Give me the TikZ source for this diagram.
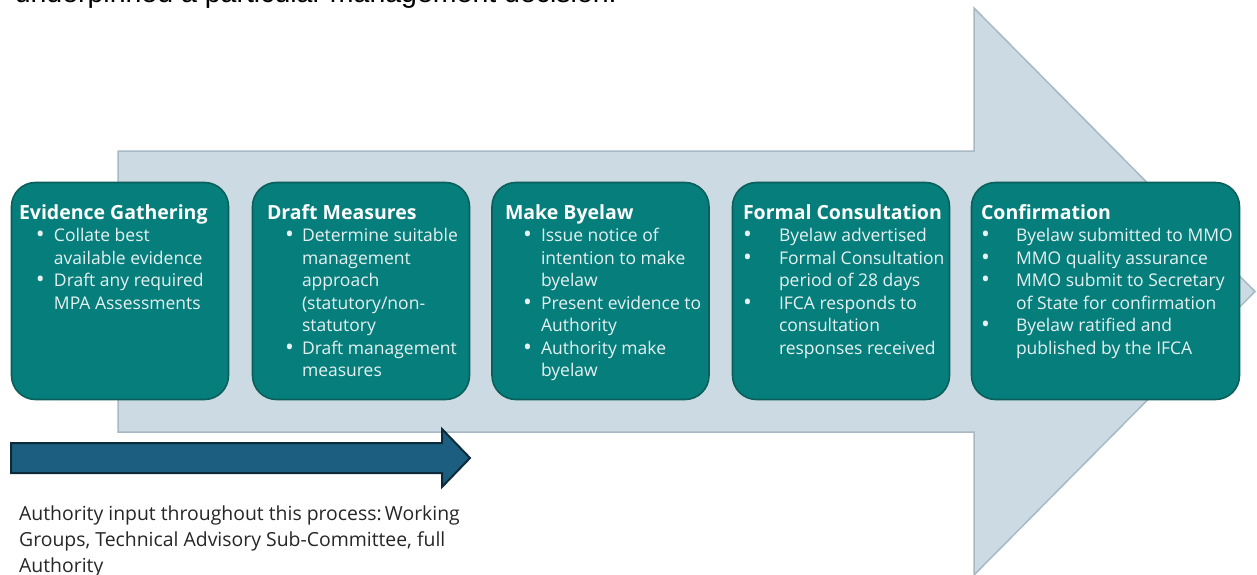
\documentclass[tikz,border=0pt]{standalone}
\usepackage{fontspec}
\usepackage{graphicx}
\setmainfont{Open Sans}
\newfontfamily\headfont{Liberation Sans}

\definecolor{tealfill}{HTML}{067F7C}
\definecolor{tealline}{HTML}{0B5F5B}
\definecolor{bandfill}{HTML}{CBDAE3}
\definecolor{bandline}{HTML}{A7B9C5}
\definecolor{inputfill}{HTML}{1B5E7F}
\definecolor{inputline}{HTML}{0D2A3A}
\definecolor{bodytext}{HTML}{E6F1F1}
\definecolor{notetext}{HTML}{262626}

% bullet layout: offset of the bullet from the title, and gap to the item text
\def\bulx{18}
\def\bulw{17}
\newcommand\bigbullet{\raisebox{-0.07em}{\scalebox{1.35}{\textbullet}}}
\newcommand\bitem[1]{\hspace*{\bulx pt}\makebox[\bulw pt][l]{\bigbullet}#1\\}
\newcommand\citem[1]{\hspace*{\dimexpr\bulx pt+\bulw pt\relax}#1\\}
\newcommand\stagetitle[1]{{\fontsize{19.5}{22.5}\selectfont\bfseries\color{white}#1}\\}
\newcommand\stagebody[2]{\parbox[t]{#1pt}{\raggedright\setlength\parindent{0pt}%
  \fontsize{17.5}{22.5}\selectfont\leavevmode\color{bodytext}#2}}

\tikzset{
  stage/.style={draw=tealline, line width=1.6pt, fill=tealfill,
    rounded corners=24pt, minimum height=217pt, inner sep=0pt},
  stagetext/.style={anchor=base west, inner sep=0pt, outer sep=0pt},
  band/.style={draw=bandline, line width=1.5pt, fill=bandfill, line join=miter},
  inputarrow/.style={draw=inputline, line width=2pt, fill=inputfill, line join=miter},
}

\begin{document}
\begin{tikzpicture}[x=1pt, y=-1pt]
\useasboundingbox (0,0) rectangle (1257,575);
\clip (0,0) rectangle (1257,575);

% running text line cut by the top edge
\node[anchor=base east, inner sep=0pt, font=\headfont\fontsize{28.5}{30}\selectfont]
  (lead) at (617,3) {underpinned a particular management decision.};

% broad process arrow behind the stages
\draw[band] (118,151) -- (974,151) -- (974,8) -- (1255,291.5)
  -- (974,575) -- (974,432) -- (118,432) -- cycle;

% authority input arrow
\draw[inputarrow] (11,443) -- (442,443) -- (442,429) -- (470,458)
  -- (442,487) -- (442,473) -- (11,473) -- cycle;

% stage boxes
\node[stage, minimum width=217pt] (evidence) at (120,291) {};
\node[stage, minimum width=217pt] (draft)    at (361,291) {};
\node[stage, minimum width=217pt] (make)     at (600.5,291) {};
\node[stage, minimum width=217pt] (consult)  at (841,291) {};
\node[stage, minimum width=268pt] (confirm)  at (1105.5,291) {};

% stage contents
\def\bulx{17}\def\bulw{18}
\node[stagetext] (evidence-text) at (19,219) {\stagebody{210}{%
  \stagetitle{Evidence Gathering}
  \bitem{Collate best}
  \citem{available evidence}
  \bitem{Draft any required}
  \citem{MPA Assessments}}};

\def\bulx{18}\def\bulw{17}
\node[stagetext] (draft-text) at (267,219) {\stagebody{210}{%
  \stagetitle{Draft Measures}
  \bitem{Determine suitable}
  \citem{management}
  \citem{approach}
  \citem{(statutory/non-}
  \citem{statutory}
  \bitem{Draft management}
  \citem{measures}}};

\def\bulx{18}\def\bulw{18}
\node[stagetext] (make-text) at (505,219) {\stagebody{210}{%
  \stagetitle{Make Byelaw}
  \bitem{Issue notice of}
  \citem{intention to make}
  \citem{byelaw}
  \bitem{Present evidence to}
  \citem{Authority}
  \bitem{Authority make}
  \citem{byelaw}}};

\def\bulx{0}\def\bulw{36}
\node[stagetext] (consult-text) at (743,219) {\stagebody{210}{%
  \stagetitle{Formal Consultation}
  \bitem{Byelaw advertised}
  \bitem{Formal Consultation}
  \citem{period of 28 days}
  \bitem{IFCA responds to}
  \citem{consultation}
  \citem{responses received}}};

\def\bulx{0}\def\bulw{35}
\node[stagetext] (confirm-text) at (981,219) {\stagebody{260}{%
  \stagetitle{Confirmation}
  \bitem{Byelaw submitted to MMO}
  \bitem{MMO quality assurance}
  \bitem{MMO submit to Secretary}
  \citem{of State for confirmation}
  \bitem{Byelaw ratified and}
  \citem{published by the IFCA}}};

% note under the input arrow (anchored on its last line)
\node[anchor=base west, inner sep=0pt, align=left, text=notetext,
  font=\fontsize{19.4}{26}\selectfont] (note) at (19,572)
  {Authority input throughout this process:\,Working\\
   Groups, Technical Advisory Sub-Committee, full\\
   Authority};
\end{tikzpicture}
\end{document}
